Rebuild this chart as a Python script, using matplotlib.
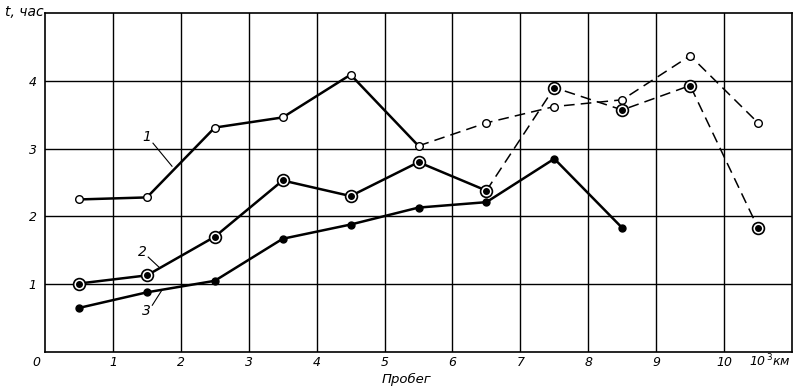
import matplotlib
matplotlib.use("Agg")
import matplotlib.pyplot as plt

# Data (mileage in 10^3 km, time in hours)
x = [0.5, 1.5, 2.5, 3.5, 4.5, 5.5, 6.5, 7.5, 8.5, 9.5, 10.5]
s1 = [2.25, 2.28, 3.31, 3.46, 4.09, 3.04, 3.38, 3.62, 3.72, 4.37, 3.38]
s2 = [1.01, 1.13, 1.70, 2.53, 2.30, 2.80, 2.38, 3.90, 3.57, 3.93, 1.83]
x3 = [0.5, 1.5, 2.5, 3.5, 4.5, 5.5, 6.5, 7.5, 8.5]
s3 = [0.65, 0.88, 1.05, 1.67, 1.88, 2.13, 2.21, 2.85, 1.83]
s1_solid_end = 6   # solid through x=5.5
s2_solid_end = 7   # solid through x=6.5
xticks = [1, 2, 3, 4, 5, 6, 7, 8, 9, 10]
yticks = [1, 2, 3, 4]

plt.rcParams['font.family'] = ['DejaVu Sans']
fig = plt.figure(figsize=(8, 3.86), dpi=100)
ax = fig.add_axes([45/800, 34/386, 747/800, 339/386])
ax.set_xlim(0, 11)
ax.set_ylim(0, 5)
ax.set_xticks(xticks)
ax.set_yticks(yticks)
ax.set_xticklabels([str(t) for t in xticks], fontstyle='italic', fontsize=9)
ax.set_yticklabels([str(t) for t in yticks], fontstyle='italic', fontsize=9)
ax.tick_params(axis='x', length=0, pad=3)
ax.tick_params(axis='y', length=0, pad=6)
ax.grid(True, color='black', lw=1.0)
for sp in ax.spines.values():
    sp.set_linewidth(1.2)

lw_solid = 1.8
lw_dash = 1.1
dash = (0, (7, 4))

# Series 1 (open circles)
ax.plot(x[:s1_solid_end], s1[:s1_solid_end], color='black', lw=lw_solid, zorder=3)
ax.plot(x[s1_solid_end-1:], s1[s1_solid_end-1:], color='black', lw=lw_dash, ls=dash, zorder=3)
ax.plot(x, s1, ls='none', marker='o', ms=5.5, mfc='white', mec='black', mew=1.0, zorder=5)

# Series 2 (ringed dots)
ax.plot(x[:s2_solid_end], s2[:s2_solid_end], color='black', lw=lw_solid, zorder=3)
ax.plot(x[s2_solid_end-1:], s2[s2_solid_end-1:], color='black', lw=lw_dash, ls=dash, zorder=3)
ax.plot(x, s2, ls='none', marker='o', ms=8.5, mfc='white', mec='black', mew=1.2, zorder=5)
ax.plot(x, s2, ls='none', marker='o', ms=4, mfc='black', mec='black', zorder=6)

# Series 3 (filled dots)
ax.plot(x3, s3, color='black', lw=lw_solid, marker='o', ms=5, mfc='black', mec='black', zorder=4)

# Curve labels with leader lines
for lab, tx, ty, (x0, y0, x1, y1) in [
    ('1', 1.50, 3.17, (1.59, 3.08, 1.87, 2.74)),
    ('2', 1.44, 1.47, (1.52, 1.40, 1.68, 1.25)),
    ('3', 1.50, 0.60, (1.58, 0.69, 1.72, 0.91)),
]:
    ax.text(tx, ty, lab, ha='center', va='center', fontstyle='italic', fontsize=10)
    ax.plot([x0, x1], [y0, y1], color='black', lw=0.8)

# Axis annotations
fig.text(5/800, 1 - 12/386, 't, час', ha='left', va='center', fontstyle='italic', fontsize=10)
fig.text(36/800, 1 - 362/386, '0', ha='center', va='center', fontstyle='italic', fontsize=9)
fig.text(770/800, 1 - 361/386, r'10$^{\,3}$км', ha='center', va='center', fontstyle='italic', fontsize=9)
fig.text(407/800, 1 - 379/386, 'Пробег', ha='center', va='center', fontstyle='italic', fontsize=9.5)

fig.savefig('out.png', dpi=100, facecolor='white')
